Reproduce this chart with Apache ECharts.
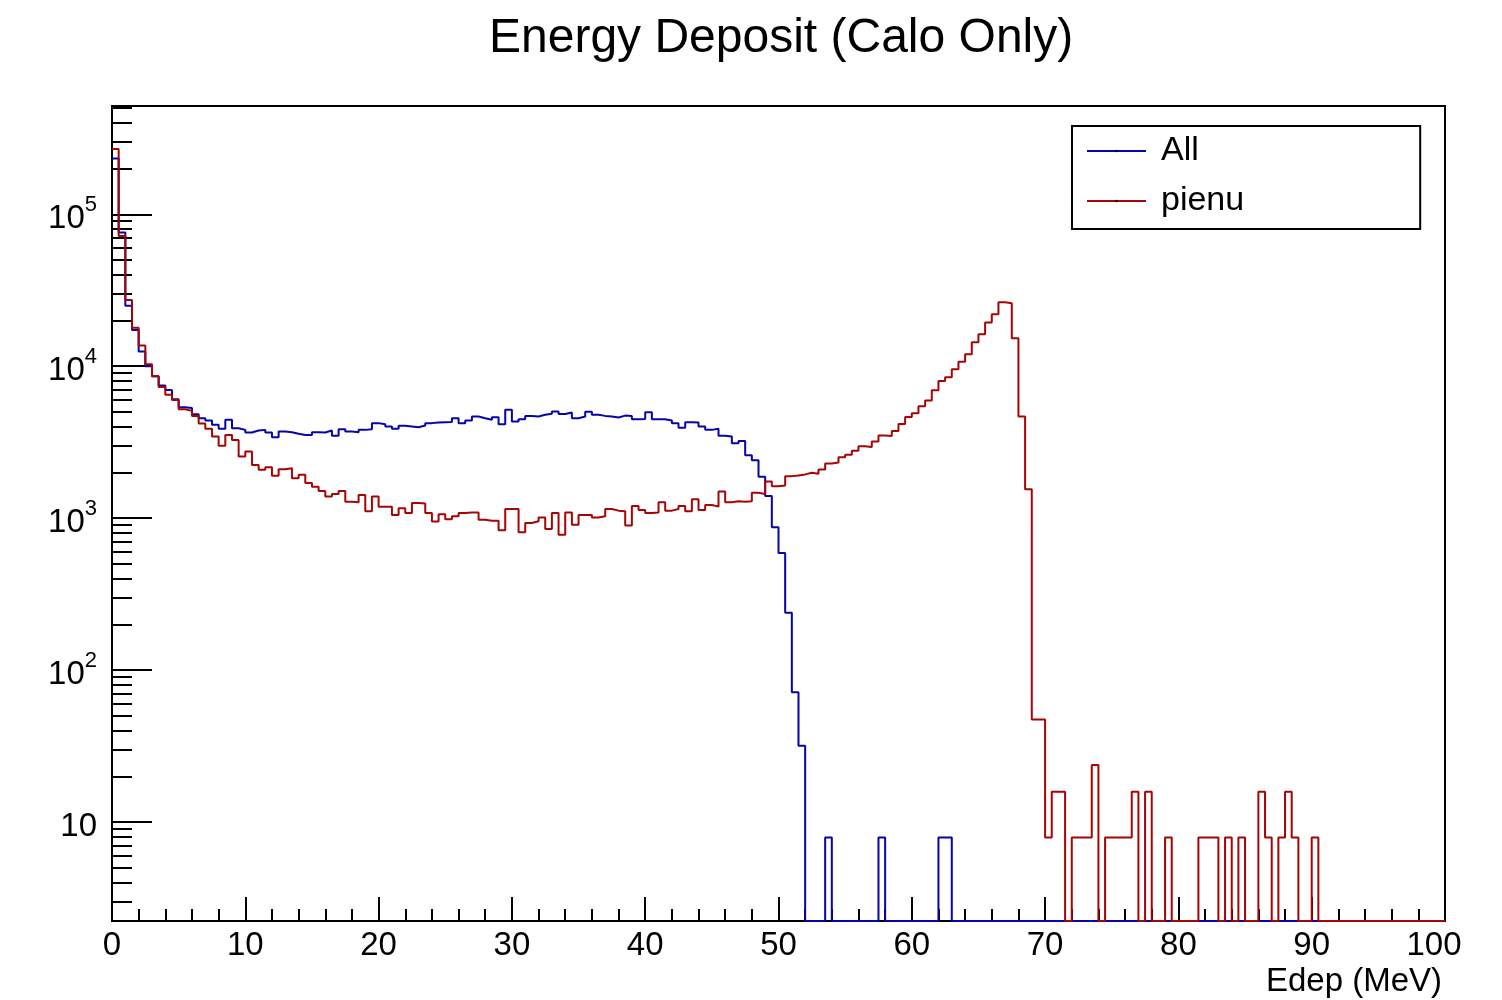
<!DOCTYPE html>
<html>
<head>
<meta charset="utf-8">
<script src="https://cdn.jsdelivr.net/npm/echarts@6/dist/echarts.min.js"></script>
<style>
html,body{margin:0;padding:0;background:#fff;}
#chart{width:1502px;height:1000px;}
</style>
</head>
<body>
<div id="chart"></div>
<script>
// ---- axis definitions ----
const X_MIN = 0, X_MAX = 100, BIN_W = 0.5;
const Y_MIN = 2.23, Y_MAX = 5.16e5;
const xTickStep = 10;
const yDecadeExponents = [1, 2, 3, 4, 5];
const yMinorMantissas = [2, 3, 4, 5, 6, 7, 8, 9];
const seriesNames = ['All', 'pienu'];

// ---- histogram contents (200 bins of 0.5 MeV) ----
const allCounts = [
  233000, 76000, 25000, 17300, 12500, 10000, 8600, 7450, 6980, 6070,
  5370, 5300, 4830, 4550, 4390, 4110, 3870, 4440, 3910, 3810,
  3660, 3770, 3810, 3660, 3410, 3720, 3680, 3590, 3530, 3530,
  3680, 3660, 3770, 3480, 3850, 3720, 3680, 3810, 3850, 4220,
  4150, 4010, 3870, 4050, 4010, 3970, 4070, 4220, 4260, 4280,
  4300, 4550, 4220, 4390, 4670, 4550, 4440, 4620, 4150, 5160,
  4320, 4480, 4710, 4670, 4790, 4860, 5030, 4840, 4960, 4550,
  4670, 5010, 4790, 4710, 4670, 4590, 4730, 4710, 4480, 4500,
  4980, 4480, 4480, 4390, 4220, 3940, 4280, 4260, 4010, 3810,
  3870, 3480, 3440, 3110, 3220, 2590, 2400, 1870, 1400, 871,
  589, 238, 71.4, 31.8, 0, 0, 0, 7.9, 0, 0,
  0, 0, 0, 0, 0, 7.9, 0, 0, 0, 0,
  0, 0, 0, 0, 7.9, 7.9, 0, 0, 0, 0,
  0, 0, 0, 0, 0, 0, 0, 0, 0, 0,
  0, 0, 0, 0, 0, 0, 0, 0, 0, 0,
  0, 0, 0, 0, 0, 0, 0, 0, 0, 0,
  0, 0, 0, 0, 0, 0, 0, 0, 0, 0,
  0, 0, 0, 0, 0, 0, 0, 0, 0, 0,
  0, 0, 0, 0, 0, 0, 0, 0, 0, 0,
  0, 0, 0, 0, 0, 0, 0, 0, 0, 0
];
const pienuCounts = [
  269000, 72000, 27300, 17900, 13700, 10300, 8600, 7300, 6500, 6000,
  5200, 5080, 4710, 4200, 3880, 3440, 2990, 3530, 3270, 2540,
  2740, 2240, 2080, 2160, 1900, 2100, 2130, 1830, 1930, 1700,
  1610, 1510, 1390, 1440, 1510, 1280, 1270, 1420, 1110, 1390,
  1190, 1190, 1050, 1160, 1080, 1260, 1250, 1080, 950, 1060,
  985, 1030, 1080, 1090, 1090, 977, 962, 962, 831, 1150,
  1150, 806, 929, 953, 1010, 848, 1080, 777, 1090, 903,
  1050, 1050, 1010, 1030, 1150, 1120, 1110, 895, 1200, 1130,
  1080, 1090, 1270, 1120, 1150, 1200, 1110, 1330, 1130, 1220,
  1190, 1500, 1270, 1290, 1280, 1290, 1470, 1440, 1740, 1620,
  1640, 1890, 1910, 1940, 1990, 1960, 2090, 2290, 2320, 2520,
  2610, 2780, 2970, 2940, 3190, 3500, 3470, 3750, 4170, 4630,
  4900, 5450, 5940, 6950, 8000, 8460, 9550, 10700, 12000, 14400,
  16200, 19400, 22000, 26400, 26000, 15300, 4660, 1550, 47.3, 47.3,
  7.9, 15.8, 15.8, 0, 7.9, 7.9, 7.9, 23.7, 0, 7.9,
  7.9, 7.9, 7.9, 15.8, 0, 15.8, 0, 0, 7.9, 0,
  0, 0, 0, 7.9, 7.9, 7.9, 0, 7.9, 0, 7.9,
  0, 0, 15.8, 7.9, 0, 7.9, 15.8, 7.9, 0, 0,
  7.9, 0, 0, 0, 0, 0, 0, 0, 0, 0,
  0, 0, 0, 0, 0, 0, 0, 0, 0, 0
];

// ---- helpers ----
const FONT = "'Liberation Sans', Arial, Helvetica, sans-serif";
function histStep(counts) {
  // empty bins are drawn on the bottom of the log axis, as ROOT does
  const pts = counts.map((c, i) => [X_MIN + i * BIN_W, c > 0 ? c : Y_MIN]);
  const last = counts[counts.length - 1];
  pts.push([X_MIN + counts.length * BIN_W, last > 0 ? last : Y_MIN]);
  return pts;
}
const LOG_MIN = Math.log10(Y_MIN), LOG_MAX = Math.log10(Y_MAX);
const majorLogs = yDecadeExponents.slice();
const minorLogs = [];
for (let e = 0; e <= 5; e++) {
  yMinorMantissas.forEach(m => {
    const v = m * Math.pow(10, e);
    if (v > Y_MIN && v < Y_MAX) minorLogs.push(Math.log10(v));
  });
}

const chart = echarts.init(document.getElementById('chart'), null, {renderer: 'canvas'});
chart.setOption({
  animation: false,
  backgroundColor: '#fff',
  title: {
    text: 'Energy Deposit (Calo Only)',
    left: 489,
    top: 15,
    padding: 0,
    textStyle: {fontFamily: FONT, fontSize: 48, fontWeight: 'normal', color: '#000'}
  },
  legend: {
    data: seriesNames,
    orient: 'vertical',
    left: 1072,
    top: 126,
    itemWidth: 59,
    itemHeight: 3,
    itemGap: 10,
    padding: [5, 176, 8, 14],
    borderColor: '#000',
    borderWidth: 2,
    borderRadius: 0,
    backgroundColor: '#fff',
    itemStyle: {color: '#000'},
    textStyle: {fontFamily: FONT, fontSize: 34, color: '#000', lineHeight: 40, padding: [0, 0, 0, 10]}
  },
  grid: {
    left: 112, right: 57, top: 106, bottom: 79,
    outerBoundsMode: 'none',
    containLabel: false,
    show: true, borderColor: '#000', borderWidth: 2, backgroundColor: 'transparent'
  },
  xAxis: {
    type: 'value', min: X_MIN, max: X_MAX, interval: xTickStep,
    axisLine: {show: true, onZero: false, lineStyle: {color: '#000', width: 2}},
    axisTick: {show: true, inside: true, length: 24, lineStyle: {color: '#000', width: 2}},
    minorTick: {show: true, splitNumber: 5, length: 12, lineStyle: {color: '#000', width: 2}},
    splitLine: {show: false},
    axisLabel: {
      color: '#000', fontFamily: FONT, fontSize: 33, margin: 8,
      formatter: v => v === X_MAX ? '{r|' + v + '}' : String(v),
      rich: {r: {fontFamily: FONT, fontSize: 33, color: '#000', padding: [0, 22, 0, 0]}}
    },
    name: 'Edep (MeV)',
    nameLocation: 'end',
    nameGap: 0,
    nameTextStyle: {fontFamily: FONT, fontSize: 33, color: '#000', align: 'right', verticalAlign: 'top', padding: [44, 3, 0, 0]}
  },
  yAxis: [
    {
      type: 'log', logBase: 10, min: Y_MIN, max: Y_MAX,
      axisLine: {show: false}, axisTick: {show: false}, axisLabel: {show: false}, splitLine: {show: false}
    },
    {
      type: 'value', min: LOG_MIN, max: LOG_MAX, position: 'left',
      axisLine: {show: true, lineStyle: {color: '#000', width: 2}},
      axisTick: {show: true, inside: true, length: 40, customValues: majorLogs, lineStyle: {color: '#000', width: 2}},
      splitLine: {show: false},
      axisLabel: {
        show: true, customValues: majorLogs, margin: 15,
        formatter: v => {
          const e = Math.round(v);
          return e === 1 ? '{b|10}' : '{b|10}{s|' + e + '}';
        },
        rich: {
          b: {fontFamily: FONT, fontSize: 33, color: '#000', lineHeight: 50, padding: [10, 0, 0, 0]},
          s: {fontFamily: FONT, fontSize: 22, color: '#000', verticalAlign: 'top', padding: [5, 0, 0, 0]}
        }
      }
    },
    {
      type: 'value', min: LOG_MIN, max: LOG_MAX, position: 'left',
      axisLine: {show: false},
      axisTick: {show: true, inside: true, length: 20, customValues: minorLogs, lineStyle: {color: '#000', width: 2}},
      axisLabel: {show: false},
      splitLine: {show: false}
    }
  ],
  series: [
    {
      name: seriesNames[0], type: 'line', step: 'end', symbol: 'none',
      xAxisIndex: 0, yAxisIndex: 0, clip: true,
      lineStyle: {color: '#0505a8', width: 2}, itemStyle: {color: '#0505a8'},
      data: histStep(allCounts)
    },
    {
      name: seriesNames[1], type: 'line', step: 'end', symbol: 'none',
      xAxisIndex: 0, yAxisIndex: 0, clip: true,
      lineStyle: {color: '#a50505', width: 2}, itemStyle: {color: '#a50505'},
      data: histStep(pienuCounts)
    }
  ]
});
</script>
</body>
</html>
